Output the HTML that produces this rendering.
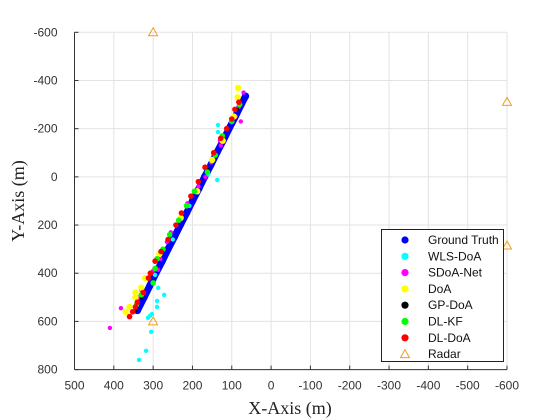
<!DOCTYPE html>
<html><head><meta charset="utf-8"><style>
body{margin:0;background:#fff;}
svg{display:block;font-family:"Liberation Sans",Arial,sans-serif;}
</style></head><body>
<svg id="chart" width="560" height="420" viewBox="0 0 560 420" xmlns="http://www.w3.org/2000/svg">
<g id="grid"></g>
<g id="axes"></g>
<g id="marks"></g>
<text x="290" y="414" text-anchor="middle" font-family="Liberation Serif,serif" font-size="18" fill="#222">X-Axis (m)</text>
<text transform="translate(24,201) rotate(-90)" text-anchor="middle" font-family="Liberation Serif,serif" font-size="18" fill="#222">Y-Axis (m)</text>
<g id="legend"></g>
</svg>
<script>
const xTicks=[500,400,300,200,100,0,-100,-200,-300,-400,-500,-600];
const yTicks=[-600,-400,-200,0,200,400,600,800];
const gtX=[65,76,91,107,122,138,153,169,184,200,215,231,246,262,277,293,308,323,340];
const gtY=[-335,-300,-250,-200,-150,-100,-50,0,50,100,150,200,250,300,350,400,450,500,555];
const wlsX=[135,135,137,160,208,250,295,287,290,272,290,308,313,303,305,318,336];
const wlsY=[-215,-186,13,-10,120,260,407,461,515,490,540,577,585,569,643,722,760];
const sdoaX=[70,82,90,112,128,152,167,185,213,232,255,265,282,300,330,337,382,410,77,130,288];
const sdoaY=[-350,-290,-250,-200,-130,-60,0,40,110,170,230,270,340,390,470,500,545,627,-230,-150,386];
const doaX=[84,85,95,123,150,188,230,284,320,330,345,345,370,360];
const doaY=[-369,-330,-250,-150,-70,60,170,320,420,460,480,500,560,540];
const gpX=[86,160,272,330,345];
const gpY=[-280,-30,300,500,555];
const kfX=[80,100,124,142,162,195,215,235,258,275,290,295,300,330,342];
const kfY=[-300,-230,-170,-90,-20,60,120,180,240,300,340,380,440,490,530];
const dlX=[82,92,100,113,128,146,168,185,204,228,242,262,280,295,307,312,325,340,352,360,345];
const dlY=[-310,-280,-240,-200,-160,-100,-40,20,80,150,200,260,310,350,400,420,480,520,560,580,540];
const radarX=[300,-600,-600,300];
const radarY=[-600,-311,285,600];

const X0=74.5,X1=507,Y0=32.3,Y1=369.6;
const sx=v=>X0+(500-v)/1100*(X1-X0);
const sy=v=>Y0+(v+600)/1400*(Y1-Y0);
const NS="http://www.w3.org/2000/svg";
function mk(tag,attrs,parent){const e=document.createElementNS(NS,tag);for(const k in attrs)e.setAttribute(k,attrs[k]);parent.appendChild(e);return e;}
const grid=document.getElementById('grid'),axes=document.getElementById('axes'),marks=document.getElementById('marks'),legend=document.getElementById('legend');
xTicks.forEach(t=>{
 const x=sx(t);
 const g=mk('line',{x1:x,x2:x,y1:Y0,y2:Y1,stroke:'#e3e3e3','stroke-width':1},grid);
 
 
 const tk=mk('line',{x1:x,x2:x,y1:Y1,y2:Y1-4,stroke:'#333'},axes);
 
 
 const l=mk('text',{x:x,y:Y1+20,'text-anchor':'middle','font-size':12,fill:'#333'},axes);
 l.textContent=t;
 
 
});
yTicks.forEach(t=>{
 const y=sy(t);
 const g=mk('line',{x1:X0,x2:X1,y1:y,y2:y,stroke:'#e3e3e3','stroke-width':1},grid);
 
 
 const tk=mk('line',{x1:X0,x2:X0+4,y1:y,y2:y,stroke:'#333'},axes);
 
 
 const l=mk('text',{x:X0-17,y:y+4,'text-anchor':'end','font-size':12,fill:'#333'},axes);
 l.textContent=t;
 
 
});
const xa=mk('line',{x1:X0,x2:X1,y1:Y1,y2:Y1,stroke:'#333'},axes);


const ya=mk('line',{x1:X0,x2:X0,y1:Y0,y2:Y1,stroke:'#333'},axes);



// ground truth band
const gtLine=mk('polyline',{points:gtX.map((v,i)=>sx(v)+','+sy(gtY[i])).join(' '),fill:'none',stroke:'#0000ff','stroke-width':7,'stroke-linecap':'round'},marks);


function dots(xs,ys,color,r,name){
 xs.forEach((v,i)=>{
  const c=mk('circle',{cx:sx(v),cy:sy(ys[i]),r:r,fill:color},marks);
  
  
 });
}
dots(gtX,gtY,'#0000ff',3.6,'ground-truth-point');
dots(wlsX,wlsY,'#00ffff',2.2,'wls-doa-point');
dots(sdoaX,sdoaY,'#ff00ff',2.2,'sdoa-net-point');
dots(doaX,doaY,'#ffff00',3.2,'doa-point');
dots(gpX,gpY,'#000000',1.8,'gp-doa-point');
dots(kfX,kfY,'#00ff00',2.8,'dl-kf-point');
dots(dlX,dlY,'#ff0000',2.8,'dl-doa-point');
radarX.forEach((v,i)=>{
 const x=sx(v),y=sy(radarY[i]);
 const p=mk('polygon',{points:`${x},${y-4.5} ${x-4.5},${y+3.5} ${x+4.5},${y+3.5}`,fill:'none',stroke:'#eda01a','stroke-width':1},marks);
 
 
});

// legend
const box=mk('rect',{x:381.5,y:229.5,width:122,height:132,fill:'#fff',stroke:'#222'},legend);


const legNames=['Ground Truth','WLS-DoA','SDoA-Net','DoA','GP-DoA','DL-KF','DL-DoA','Radar'];
const legColors=['#0000ff','#00ffff','#ff00ff','#ffff00','#000000','#00ff00','#ff0000','#eda01a'];
legNames.forEach((n,i)=>{
 const y=240+i*16.3;
 let m;
 if(i<7){m=mk('circle',{cx:405,cy:y,r:3.6,fill:legColors[i]},legend);}
 else{m=mk('polygon',{points:`405,${y-4.5} 400.5,${y+3.5} 409.5,${y+3.5}`,fill:'none',stroke:legColors[i]},legend);}
 
 
 const t=mk('text',{x:428,y:y+4,'font-size':12,fill:'#111'},legend);
 t.textContent=n;
 
 
});
</script>
</body></html>
